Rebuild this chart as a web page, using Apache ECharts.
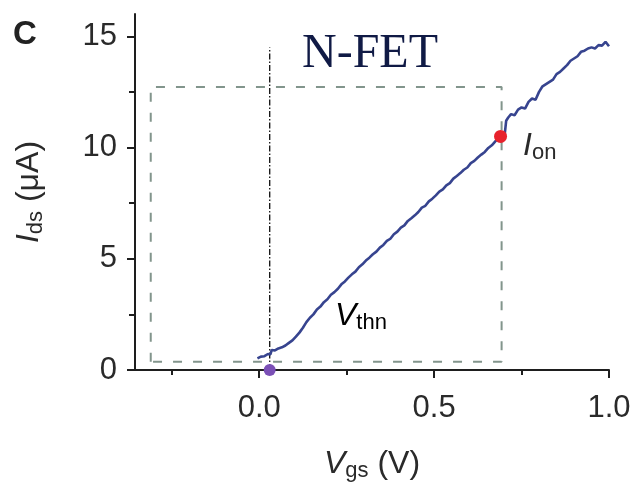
<!DOCTYPE html>
<html>
<head>
<meta charset="utf-8">
<script src="https://cdn.jsdelivr.net/npm/echarts@6/dist/echarts.min.js"></script>
<style>
  html, body { margin: 0; padding: 0; background: #fff; }
  #chart { width: 639px; height: 491px; }
</style>
</head>
<body>
<div id="chart"></div>
<script>
// Transfer curve of the N-FET: drain current vs gate voltage
const vgs = [-0.005, 0.005, 0.015, 0.025, 0.032, 0.036, 0.045, 0.055, 0.065, 0.075,
  0.085, 0.095, 0.105, 0.115, 0.125, 0.135, 0.145, 0.155, 0.165, 0.175,
  0.185, 0.195, 0.205, 0.215, 0.225, 0.235, 0.245, 0.255, 0.265, 0.275,
  0.285, 0.295, 0.305, 0.315, 0.325, 0.335, 0.345, 0.355, 0.365, 0.375,
  0.385, 0.395, 0.405, 0.415, 0.425, 0.435, 0.445, 0.455, 0.465, 0.475,
  0.485, 0.495, 0.505, 0.515, 0.525, 0.535, 0.545, 0.555, 0.565, 0.575,
  0.585, 0.595, 0.605, 0.615, 0.625, 0.635, 0.645, 0.655, 0.665, 0.675,
  0.685, 0.695, 0.702, 0.706, 0.712, 0.72, 0.73, 0.74, 0.75, 0.76,
  0.77, 0.78, 0.79, 0.80, 0.81, 0.82, 0.83, 0.84, 0.85, 0.86,
  0.87, 0.88, 0.89, 0.90, 0.91, 0.92, 0.93, 0.94, 0.95, 0.96,
  0.97, 0.98, 0.99, 1.0];
const ids = [0.52, 0.6, 0.62, 0.72, 0.7, 0.9, 0.88, 0.97, 1.02, 1.1,
  1.22, 1.33, 1.5, 1.68, 1.9, 2.15, 2.35, 2.5, 2.72, 2.85,
  3.05, 3.18, 3.38, 3.5, 3.65, 3.85, 3.98, 4.15, 4.3, 4.42,
  4.62, 4.75, 4.92, 5.05, 5.2, 5.32, 5.5, 5.62, 5.8, 5.9,
  6.1, 6.22, 6.4, 6.5, 6.7, 6.82, 6.95, 7.1, 7.3, 7.38,
  7.58, 7.7, 7.85, 8.02, 8.12, 8.3, 8.4, 8.6, 8.72, 8.85,
  9.0, 9.1, 9.3, 9.4, 9.55, 9.68, 9.8, 9.98, 10.1, 10.28,
  10.4, 10.55, 10.6, 11.2, 11.35, 11.5, 11.45, 11.7, 11.8, 11.75,
  12.05, 12.2, 12.15, 12.5, 12.75, 12.85, 12.95, 13.05, 13.3, 13.4,
  13.55, 13.7, 13.9, 14.0, 14.1, 14.3, 14.35, 14.45, 14.5, 14.45,
  14.6, 14.58, 14.75, 14.55];

// Operating window (dashed box): Vgs range and Ids range
const boxVgs = [-0.31, 0.693];
const boxIds = [0.37, 12.72];

// Threshold voltage and on-current markers
const vThn = 0.03;
const vThnLineTop = 14.5;
const onPoint = [0.69, 10.5];

// Axis ticks
const xMajorTicks = [0, 0.5, 1.0];
const xMinorTicks = [-0.25, 0.25, 0.75];
const yMajorTicks = [0, 5, 10, 15];
const yMinorTicks = [2.5, 7.5, 12.5];
const xRange = [-0.355, 1.0];
const yRange = [0, 16];

const curve = vgs.map((v, i) => [v, ids[i]]);
const boxPath = [
  [boxVgs[0], boxIds[0]], [boxVgs[0], boxIds[1]],
  [boxVgs[1], boxIds[1]], [boxVgs[1], boxIds[0]], [boxVgs[0], boxIds[0]]
];

const SANS = '"Liberation Sans", Arial, Helvetica, sans-serif';
const INK = '#2a2a2a';

const richLabel = {
  i: { fontFamily: SANS, fontSize: 32, fontStyle: 'italic', color: INK, lineHeight: 36 },
  s: { fontFamily: SANS, fontSize: 22, color: INK, lineHeight: 18, verticalAlign: 'bottom' },
  n: { fontFamily: SANS, fontSize: 32, color: INK, lineHeight: 36 }
};

const tickStyle = { color: '#1e1e1e', width: 2 };

const chart = echarts.init(document.getElementById('chart'), null, { renderer: 'canvas' });

chart.setOption({
  animation: false,
  backgroundColor: '#ffffff',
  grid: { left: 135, right: 30, top: 14, bottom: 121, outerBoundsMode: 'none', containLabel: false },
  xAxis: [
    {
      type: 'value', min: xRange[0], max: xRange[1], position: 'bottom', offset: 0,
      axisLine: { show: true, onZero: false, lineStyle: { color: '#1e1e1e', width: 2 } },
      axisTick: { show: true, customValues: xMajorTicks, length: 8, lineStyle: tickStyle },
      axisLabel: {
        show: true, customValues: xMajorTicks, margin: 23,
        fontFamily: SANS, fontSize: 31, color: INK,
        formatter: v => v.toFixed(1)
      },
      splitLine: { show: false },
      name: '{i|V}{s|gs}{n| (V)}', nameLocation: 'middle', nameGap: 76,
      nameTextStyle: { rich: richLabel }
    },
    {
      type: 'value', min: xRange[0], max: xRange[1], position: 'bottom', offset: 0,
      axisLine: { show: false, onZero: false },
      axisTick: { show: true, customValues: xMinorTicks, length: 5, lineStyle: tickStyle },
      axisLabel: { show: false },
      splitLine: { show: false }
    }
  ],
  yAxis: [
    {
      type: 'value', min: yRange[0], max: yRange[1], position: 'left', offset: 0,
      axisLine: { show: true, onZero: false, lineStyle: { color: '#1e1e1e', width: 2 } },
      axisTick: { show: true, customValues: yMajorTicks, length: 8, lineStyle: tickStyle },
      axisLabel: {
        show: true, customValues: yMajorTicks, margin: 18,
        fontFamily: SANS, fontSize: 31, color: INK
      },
      splitLine: { show: false },
      name: '{i|I}{s|ds}{n| (μA)}', nameLocation: 'middle', nameGap: 88,
      nameTextStyle: { rich: richLabel }
    },
    {
      type: 'value', min: yRange[0], max: yRange[1], position: 'left', offset: 0,
      axisLine: { show: false, onZero: false },
      axisTick: { show: true, customValues: yMinorTicks, length: 6, lineStyle: tickStyle },
      axisLabel: { show: false },
      splitLine: { show: false }
    }
  ],
  series: [
    {
      name: 'window', type: 'line', data: boxPath, showSymbol: false, silent: true, z: 2,
      lineStyle: { color: '#82958c', width: 2, type: [9, 11] }
    },
    {
      name: 'Vthn line', type: 'line', data: [[vThn, 0], [vThn, vThnLineTop]],
      showSymbol: false, silent: true, z: 3,
      lineStyle: { color: '#1a1a1a', width: 1.4, type: [6, 2, 1.5, 2] }
    },
    {
      name: 'Ids', type: 'line', data: curve, showSymbol: false, smooth: false, z: 4,
      lineStyle: { color: '#37448f', width: 2.6 }
    },
    {
      name: 'Vthn', type: 'scatter', data: [[vThn, 0]], symbol: 'circle', symbolSize: 12,
      clip: false, z: 6, itemStyle: { color: '#7b50b6', opacity: 1 }
    },
    {
      name: 'Ion', type: 'scatter', data: [onPoint], symbol: 'circle', symbolSize: 13,
      clip: false, z: 6, itemStyle: { color: '#e8222c', opacity: 1 },
      label: {
        show: true, position: 'right', distance: 16, offset: [0, 10],
        color: INK, opacity: 1,
        formatter: '{i|I}{s|on}', rich: richLabel
      },
      emphasis: { disabled: true }
    }
  ],
  graphic: [
    {
      type: 'text', left: 13, top: 18,
      style: { text: 'C', font: 'bold 33px ' + SANS, fill: '#222' }
    },
    {
      type: 'text', left: 302, top: 30,
      style: { text: 'N-FET', font: '48px "Liberation Serif", "Times New Roman", serif', fill: '#101a45' }
    },
    {
      type: 'text', left: 335, top: 300,
      style: { text: '{i|V}{s|thn}', rich: richLabel }
    }
  ]
});
</script>
</body>
</html>
